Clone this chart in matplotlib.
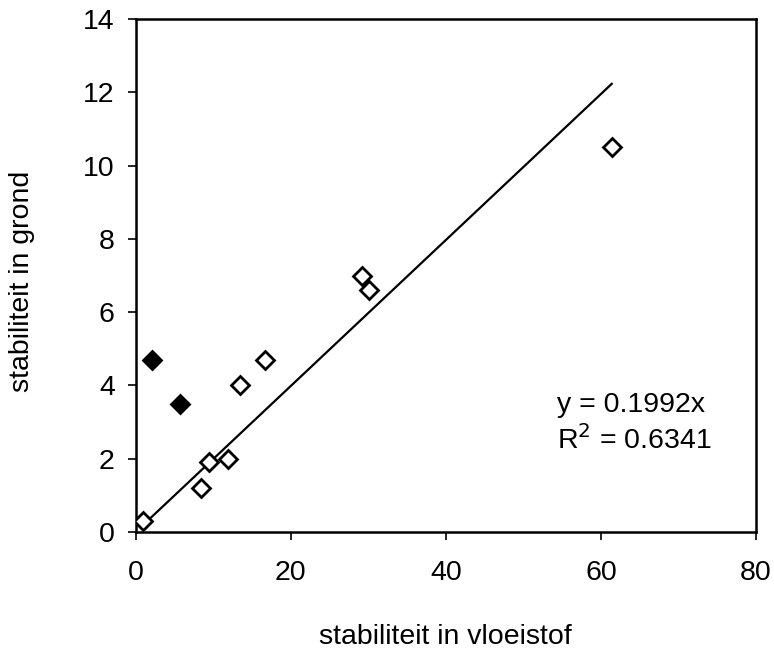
import matplotlib
matplotlib.use("Agg")
import matplotlib.pyplot as plt
import numpy as np

plt.rcParams['font.family'] = ['Liberation Sans', 'DejaVu Sans']

# open diamonds: series used for the regression through the origin
open_x = [1.0, 8.4, 9.5, 11.9, 13.4, 16.7, 29.2, 30.1, 61.4]
open_y = [0.3, 1.2, 1.9, 2.0, 4.0, 4.7, 7.0, 6.6, 10.5]
# filled diamonds
filled_x = [2.1, 5.7]
filled_y = [4.7, 3.5]

slope = 0.1992
r_squared = 0.6341

x_ticks = [0, 20, 40, 60, 80]
y_ticks = [0, 2, 4, 6, 8, 10, 12, 14]

fig = plt.figure(figsize=(7.74, 6.53), dpi=100)
ax = fig.add_axes([0.1753, 0.1853, 0.8014, 0.7856])

fs = 20.5

ax.plot(open_x, open_y, linestyle='none', marker='D', markersize=9.5,
        markerfacecolor='white', markeredgecolor='black', markeredgewidth=2.0, zorder=3)
ax.plot(filled_x, filled_y, linestyle='none', marker='D', markersize=9.5,
        markerfacecolor='black', markeredgecolor='black', markeredgewidth=2.0, zorder=3)

# linear trend line y = a*x over the range of the open series
xl = np.array([min(open_x), max(open_x)])
ax.plot(xl, slope * xl, color='black', linewidth=1.6, zorder=2)

ax.text(54.4, 3.46, f"y = {slope:.4f}x", fontsize=fs, ha='left', va='center')
ax.text(54.4, 2.5, f"R$^2$ = {r_squared:.4f}", fontsize=fs, ha='left', va='center')

ax.set_xlim(0, 80)
ax.set_ylim(0, 14)
ax.set_xticks(x_ticks)
ax.set_yticks(y_ticks)
ax.tick_params(axis='both', direction='out', length=6, width=1.2, labelsize=fs, color='black')
ax.tick_params(axis='x', pad=14)
ax.tick_params(axis='y', pad=9)

for sp in ax.spines.values():
    sp.set_linewidth(1.8)
    sp.set_color('black')

ax.set_xlabel("stabiliteit in vloeistof", fontsize=fs)
ax.set_ylabel("stabiliteit in grond", fontsize=fs)
ax.xaxis.set_label_coords(0.5, -0.2047)
ax.xaxis.label.set_va('center')
ax.yaxis.set_label_coords(-0.183, 0.489)
ax.yaxis.label.set_va('center')

fig.savefig("out.png", dpi=100)
